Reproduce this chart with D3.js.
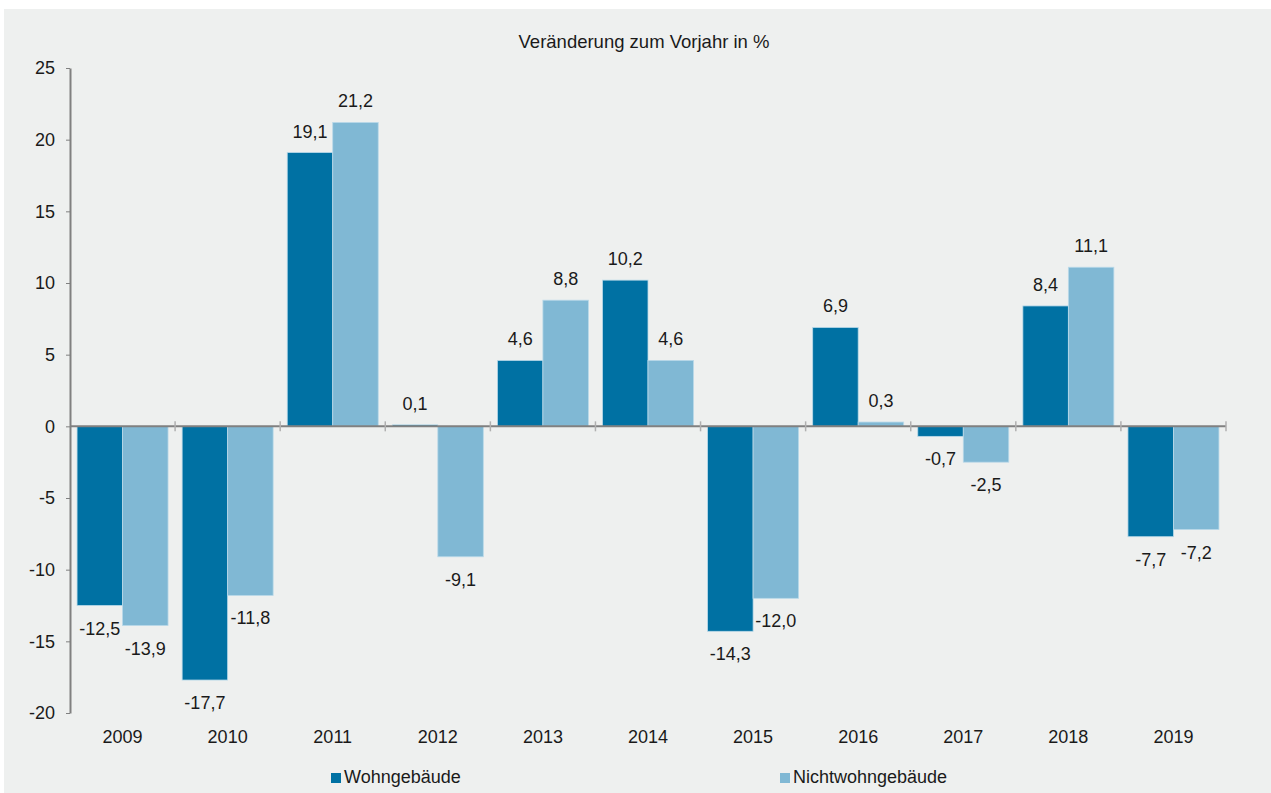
<!DOCTYPE html>
<html>
<head>
<meta charset="utf-8">
<script src="https://cdn.jsdelivr.net/npm/d3@7"></script>
<style>
  body { margin: 0; background: #ffffff; }
  #chart { position: absolute; left: 4px; top: 9px; }
  text { font-family: "Liberation Sans", Arial, sans-serif; fill: #1a1a1a; }
</style>
</head>
<body>
<div id="chart"></div>
<script>
// years and the two series (change to previous year in %)
const years = ["2009", "2010", "2011", "2012", "2013", "2014", "2015", "2016", "2017", "2018", "2019"];
const wohn = [-12.5, -17.7, 19.1, 0.1, 4.6, 10.2, -14.3, 6.9, -0.7, 8.4, -7.7];
const nichtwohn = [-13.9, -11.8, 21.2, -9.1, 8.8, 4.6, -12.0, 0.3, -2.5, 11.1, -7.2];
const seriesNames = ["Wohngebäude", "Nichtwohngebäude"];
const yTicks = [-20, -15, -10, -5, 0, 5, 10, 15, 20, 25];

const colors = ["#0071a3", "#80b8d4"];

// svg size = gray panel
let width = 1267;
let height = 784;
let margin = { top: 59, right: 45, bottom: 80, left: 66 };

let svg = d3.select("#chart")
    .append("svg")
    .attr("width", width)
    .attr("height", height);

svg.append("rect")
    .attr("width", width)
    .attr("height", height)
    .attr("fill", "#eef0ef");

// x axis: years as bands, then one sub band per series
let x = d3.scaleBand()
    .domain(years)
    .range([margin.left, width - margin.right]);

let xInner = d3.scaleBand()
    .domain([0, 1])
    .range([0, x.bandwidth()])
    .paddingOuter(0.155)
    .paddingInner(0);

// y axis
let y = d3.scaleLinear()
    .domain([-20, 25])
    .range([height - margin.bottom, margin.top]);

// german number format with plain hyphen
const fmt = v => d3.format(".1f")(v).replace(".", ",").replace("\u2212", "-");

// title
svg.append("text")
    .attr("x", 640)
    .attr("y", 39)
    .attr("text-anchor", "middle")
    .style("font-size", "18.5px")
    .text("Veränderung zum Vorjahr in %");

// bars
const groups = svg.selectAll("g.year")
    .data(years)
    .enter()
    .append("g")
    .attr("class", "year")
    .attr("transform", d => `translate(${x(d)},0)`);

[wohn, nichtwohn].forEach((values, s) => {
    groups.append("rect")
        .attr("x", xInner(s))
        .attr("width", xInner.bandwidth())
        .attr("y", (d, i) => y(Math.max(0, values[i])))
        .attr("height", (d, i) => Math.abs(y(values[i]) - y(0)))
        .attr("fill", colors[s])
        .attr("stroke", "#b9d9e9")
        .attr("stroke-width", 0.8);

    groups.append("text")
        .attr("x", xInner(s) + xInner.bandwidth() / 2)
        .attr("y", (d, i) => values[i] >= 0 ? y(values[i]) - 15 : y(values[i]) + 29)
        .attr("text-anchor", "middle")
        .style("font-size", "18px")
        .text((d, i) => fmt(values[i]));
});

// y axis on the left
const yAxis = svg.append("g")
    .attr("transform", `translate(${margin.left},0)`)
    .call(d3.axisLeft(y).tickValues(yTicks).tickSize(4).tickSizeOuter(0).tickFormat(d => d));
yAxis.select(".domain").attr("stroke", "#808080").attr("stroke-width", 2);
yAxis.selectAll(".tick line").attr("stroke", "#808080");
yAxis.selectAll(".tick text")
    .attr("x", -15)
    .style("font-size", "18px")
    .attr("fill", "#1a1a1a");

// zero line with category ticks
const zero = svg.append("g")
    .attr("transform", `translate(0,${y(0)})`);
zero.append("line")
    .attr("x1", margin.left)
    .attr("x2", width - margin.right)
    .attr("stroke", "#808080")
    .attr("stroke-width", 2);
zero.selectAll("line.sep")
    .data(years.slice(1).concat(["end"]))
    .enter()
    .append("line")
    .attr("class", "sep")
    .attr("x1", (d, i) => margin.left + (i + 1) * x.step())
    .attr("x2", (d, i) => margin.left + (i + 1) * x.step())
    .attr("y1", -5)
    .attr("y2", 5)
    .attr("stroke", "#b0b0b0")
    .attr("stroke-width", 1.5);

// year labels
svg.selectAll("text.year")
    .data(years)
    .enter()
    .append("text")
    .attr("class", "year")
    .attr("x", d => x(d) + x.bandwidth() / 2)
    .attr("y", 734)
    .attr("text-anchor", "middle")
    .style("font-size", "18px")
    .text(d => d);

// legend
const legendX = [327, 776];
seriesNames.forEach((name, s) => {
    svg.append("rect")
        .attr("x", legendX[s])
        .attr("y", 764)
        .attr("width", 10)
        .attr("height", 10)
        .attr("fill", colors[s]);
    svg.append("text")
        .attr("x", legendX[s] + 13)
        .attr("y", 774)
        .style("font-size", "18px")
        .text(name);
});
</script>
</body>
</html>
